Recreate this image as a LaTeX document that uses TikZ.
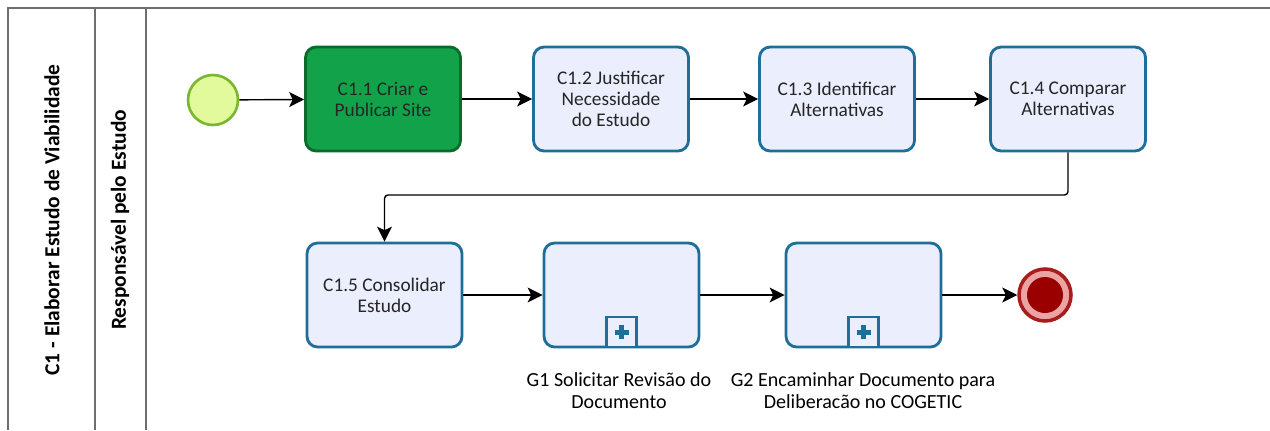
\documentclass[tikz,border=0pt]{standalone}
\usepackage{fontspec}
\setmainfont{Carlito}
\usepackage{tikz}
\usetikzlibrary{arrows.meta,shapes,positioning}
\definecolor{taskfill}{HTML}{EAEEFD}
\definecolor{taskline}{HTML}{1F6E99}
\definecolor{startfill}{HTML}{E3FA9C}
\definecolor{startline}{HTML}{78B72E}
\definecolor{donefill}{HTML}{12A24A}
\definecolor{doneline}{HTML}{0C6A2A}
\definecolor{endring}{HTML}{A81C1C}
\definecolor{endfill}{HTML}{EBA3A3}
\definecolor{endcore}{HTML}{9A0000}
\definecolor{laneline}{HTML}{6E6E6E}
\tikzset{>={Stealth[length=8.5pt,width=8.5pt,inset=2pt]}}
\tikzset{
  task/.style={draw=taskline, fill=taskfill, line width=1.6pt, rounded corners=6pt,
    minimum width=3.1cm, minimum height=2.08cm, align=center, text=black!85,
    font=\fontsize{11}{12}\selectfont},
  flow/.style={->, line width=0.8pt},
  plusbox/.style={draw=taskline, line width=1.3pt, fill=taskfill, minimum size=0.6cm, inner sep=0pt},
  caption/.style={align=center, font=\fontsize{11.4}{12.5}\selectfont}
}

\begin{document}
\begin{tikzpicture}[x=0.02cm,y=-0.02cm]
\useasboundingbox (0,0) rectangle (1270,430);
    % Pool and lane
    \draw[laneline, line width=1.2pt] (8,430) -- (8,8) -- (1270,8);
    \draw[laneline, line width=1pt] (95,8) -- (95,430);
    \draw[laneline, line width=1pt] (146,8) -- (146,430);
    \node[rotate=90, font=\bfseries\fontsize{12.2}{14}\selectfont] (pool) at (52,220) {C1 - Elaborar Estudo de Viabilidade};
    \node[rotate=90, font=\bfseries\fontsize{12.2}{14}\selectfont] (lane) at (120,220) {Responsável pelo Estudo};
    % Events
    \node[circle, draw=startline, fill=startfill, line width=1.5pt, minimum size=1.0cm] (start) at (213,100) {};
    \node[circle, draw=endring, fill=endfill, line width=2pt, minimum size=1.04cm] (end) at (1045,295) {};
    \fill[endcore] (end.center) circle (0.36cm);
    % Tasks
    \node[task, fill=donefill, draw=doneline] (c11) at (383,99) {C1.1 Criar e\\Publicar Site};
    \node[task] (c12) at (611,99) {C1.2 Justificar\\Necessidade\\do Estudo};
    \node[task] (c13) at (837,99) {C1.3 Identificar\\Alternativas};
    \node[task] (c14) at (1068,99) {C1.4 Comparar\\Alternativas};
    \node[task] (c15) at (384.5,295) {C1.5 Consolidar\\Estudo};
    \node[task] (g1) at (621.5,295) {};
    \node[task] (g2) at (863.5,295) {};
    % Sub-process markers
    \foreach \g in {g1,g2} {
      \node[plusbox, anchor=south] (\g m) at (\g.south) {};
      \draw[taskline, line width=3pt] ([xshift=-0.14cm]\g m.center) -- ([xshift=0.14cm]\g m.center);
      \draw[taskline, line width=3pt] ([yshift=-0.14cm]\g m.center) -- ([yshift=0.14cm]\g m.center);
    }
    \node[caption] (g1l) at (619,391) {G1 Solicitar Revisão do\\Documento};
    \node[caption] (g2l) at (863,391) {G2 Encaminhar Documento para\\Deliberacão no COGETIC};
    % Sequence flows
    \draw[flow] (start) -- (c11);
    \draw[flow] (c11) -- (c12);
    \draw[flow] (c12) -- (c13);
    \draw[flow] (c13) -- (c14);
    \coordinate (bend) at (1068,195);
    \draw[flow, rounded corners=2pt] (c14.south) -- (bend) -| (c15.north);
    \draw[flow] (c15) -- (g1);
    \draw[flow] (g1) -- (g2);
    \draw[flow] (g2) -- (end);
\end{tikzpicture}
\end{document}
